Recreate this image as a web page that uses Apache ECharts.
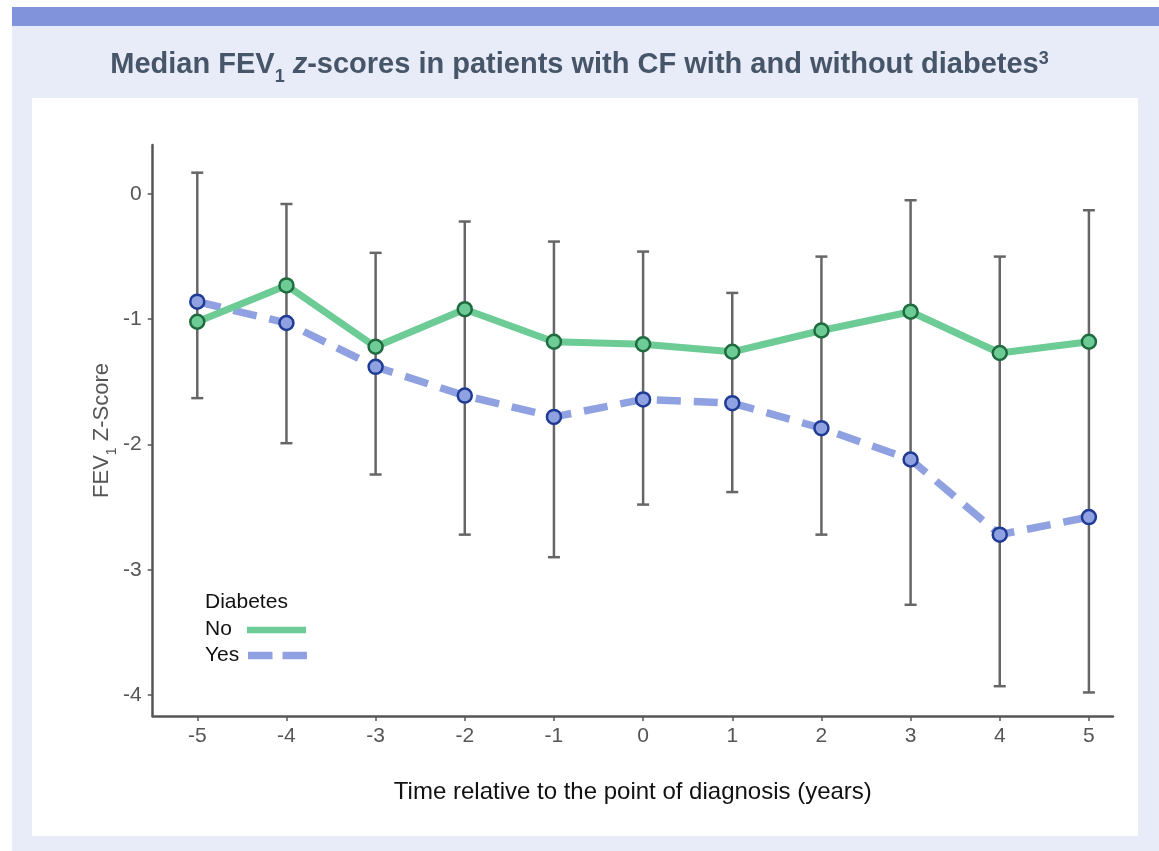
<!DOCTYPE html>
<html>
<head>
<meta charset="utf-8">
<title>Median FEV1 z-scores</title>
<script src="https://cdn.jsdelivr.net/npm/echarts@6/dist/echarts.min.js"></script>
<style>
  html, body { margin: 0; padding: 0; background: #ffffff; }
  #chart { width: 1159px; height: 851px; }
</style>
</head>
<body>
<div id="chart"></div>
<script>
// years relative to diagnosis
const years = [-5, -4, -3, -2, -1, 0, 1, 2, 3, 4, 5]
// median FEV1 z-score, no diabetes
const noDiabetes = [-1.02, -0.73, -1.22, -0.92, -1.18, -1.2, -1.26, -1.09, -0.94, -1.27, -1.18]
// median FEV1 z-score, with diabetes
const yesDiabetes = [-0.86, -1.03, -1.38, -1.61, -1.78, -1.64, -1.67, -1.87, -2.12, -2.72, -2.58]
// error bar ends
const errHigh = [0.17, -0.08, -0.47, -0.22, -0.38, -0.46, -0.79, -0.5, -0.05, -0.5, -0.13]
const errLow = [-1.63, -1.99, -2.24, -2.72, -2.9, -2.48, -2.38, -2.72, -3.28, -3.93, -3.98]
const yTicks = [0, -1, -2, -3, -4]

const green = '#6dcc96'
const greenEdge = '#1f6b3f'
const blue = '#8fa1e1'
const blueEdge = '#1f3b94'
const titleColor = '#475569'
const font = '"Liberation Sans", Arial, sans-serif'

const chart = echarts.init(document.getElementById('chart'))

const errData = years.map((x, i) => [x, errLow[i], errHigh[i]])

const option = {
  animation: false,
  textStyle: { fontFamily: font },
  title: {
    text: '{b|Median FEV}{s|1}{b| }{i|z}{b|-scores in patients with CF with and without diabetes}{p|3}',
    left: 'center',
    top: 45,
    textStyle: {
      rich: {
        b: { fontFamily: font, fontSize: 29, fontWeight: 'bold', color: titleColor, lineHeight: 30, verticalAlign: 'top' },
        i: { fontFamily: font, fontSize: 29, fontWeight: 'bold', fontStyle: 'italic', color: titleColor, lineHeight: 30, verticalAlign: 'top' },
        s: { fontFamily: font, fontSize: 18, fontWeight: 'bold', color: titleColor, lineHeight: 36, verticalAlign: 'bottom' },
        p: { fontFamily: font, fontSize: 18, fontWeight: 'bold', color: titleColor, lineHeight: 18, verticalAlign: 'top' }
      }
    }
  },
  graphic: [
    { type: 'rect', z: -10, shape: { x: 12, y: 26, width: 1147, height: 825 }, style: { fill: '#e8ecf8' } },
    { type: 'rect', z: -10, shape: { x: 12, y: 7, width: 1147, height: 19 }, style: { fill: '#8093db' } },
    { type: 'rect', z: -9, shape: { x: 32, y: 98, width: 1106, height: 738 }, style: { fill: '#ffffff' } },
    // legend
    { type: 'text', x: 205, y: 602, style: { text: 'Diabetes', font: '21px ' + font, fill: '#111', verticalAlign: 'middle' } },
    { type: 'text', x: 205, y: 629, style: { text: 'No', font: '21px ' + font, fill: '#111', verticalAlign: 'middle' } },
    { type: 'text', x: 205, y: 655, style: { text: 'Yes', font: '21px ' + font, fill: '#111', verticalAlign: 'middle' } },
    { type: 'line', shape: { x1: 247, y1: 630, x2: 306, y2: 630 }, style: { stroke: green, lineWidth: 6.5 } },
    { type: 'line', shape: { x1: 248, y1: 655.5, x2: 308, y2: 655.5 }, style: { stroke: blue, lineWidth: 7.5, lineDash: [24.5, 10] } }
  ],
  grid: { left: 152.7, top: 145, width: 960.3, height: 571 },
  xAxis: {
    type: 'value',
    min: -5.5,
    max: 5.27,
    name: 'Time relative to the point of diagnosis (years)',
    nameLocation: 'middle',
    nameGap: 64,
    nameTextStyle: { fontSize: 24, color: '#111', fontFamily: font },
    axisLine: { show: true, onZero: false, lineStyle: { color: '#555', width: 2.5 } },
    axisTick: { show: true, length: 5, lineStyle: { color: '#555', width: 1.5 }, customValues: years },
    axisLabel: { fontSize: 21, color: '#555', margin: 10, customValues: years },
    splitLine: { show: false }
  },
  yAxis: {
    type: 'value',
    min: -4.168,
    max: 0.391,
    name: '{t|FEV}{s|1}{t| Z-Score}',
    nameLocation: 'middle',
    nameGap: 34,
    nameMoveOverlap: false,
    nameRotate: 90,
    nameTextStyle: {
      rich: {
        t: { fontSize: 22, color: '#555', fontFamily: font, lineHeight: 24, verticalAlign: 'top' },
        s: { fontSize: 14, color: '#555', fontFamily: font, lineHeight: 28, verticalAlign: 'bottom' }
      }
    },
    axisLine: { show: true, onZero: false, lineStyle: { color: '#555', width: 2.5 } },
    axisTick: { show: true, length: 5, lineStyle: { color: '#555', width: 1.5 }, customValues: yTicks },
    axisLabel: { fontSize: 21, color: '#555', margin: 11, customValues: yTicks },
    splitLine: { show: false }
  },
  series: [
    {
      type: 'custom',
      name: 'error',
      data: errData,
      z: 1,
      renderItem: function (params, api) {
        const x = api.value(0)
        const lo = api.coord([x, api.value(1)])
        const hi = api.coord([x, api.value(2)])
        const cap = 6
        const st = { stroke: '#666', lineWidth: 2.5 }
        return {
          type: 'group',
          children: [
            { type: 'line', shape: { x1: lo[0], y1: lo[1], x2: hi[0], y2: hi[1] }, style: st },
            { type: 'line', shape: { x1: hi[0] - cap, y1: hi[1], x2: hi[0] + cap, y2: hi[1] }, style: st },
            { type: 'line', shape: { x1: lo[0] - cap, y1: lo[1], x2: lo[0] + cap, y2: lo[1] }, style: st }
          ]
        }
      }
    },
    {
      type: 'line',
      name: 'Yes',
      data: years.map((x, i) => [x, yesDiabetes[i]]),
      symbol: 'none',
      z: 2,
      lineStyle: { color: blue, width: 7.5, type: [24, 13] }
    },
    {
      type: 'line',
      name: 'No',
      data: years.map((x, i) => [x, noDiabetes[i]]),
      symbol: 'none',
      z: 3,
      lineStyle: { color: green, width: 7 }
    },
    {
      type: 'scatter',
      name: 'No points',
      data: years.map((x, i) => [x, noDiabetes[i]]),
      symbolSize: 14,
      z: 4,
      itemStyle: { color: green, borderColor: greenEdge, borderWidth: 2.5, opacity: 1 }
    },
    {
      type: 'scatter',
      name: 'Yes points',
      data: years.map((x, i) => [x, yesDiabetes[i]]),
      symbolSize: 14,
      z: 4,
      itemStyle: { color: blue, borderColor: blueEdge, borderWidth: 2.5, opacity: 1 }
    }
  ]
}

chart.setOption(option)
window.addEventListener('resize', () => chart.resize())
</script>
</body>
</html>
